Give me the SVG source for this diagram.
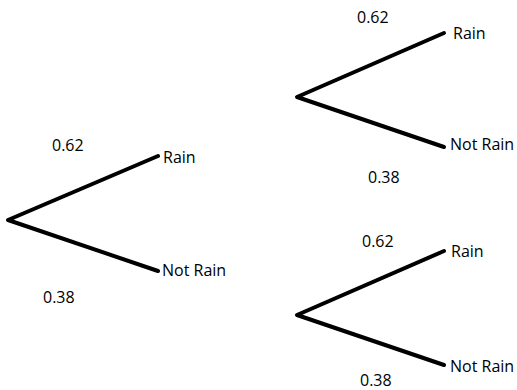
<svg xmlns="http://www.w3.org/2000/svg" width="517" height="390" viewBox="0 0 517 390">
<style>
.b{fill:none;stroke:#000;stroke-width:4;stroke-linecap:round;stroke-linejoin:round}
text{font-family:"Open Sans","Liberation Sans",sans-serif;font-size:16px;fill:#000}
</style>
<rect width="517" height="390" fill="#fff"/>
<g id="connectors">
<path class="b" d="M158 156 L8 220 L158 271"/>
<path class="b" d="M444 33 L297 97 L444 147"/>
<path class="b" d="M444 251 L297 315 L444 365"/>
</g>
<g id="tree1">
<text x="52" y="151">0.62</text>
<text x="163" y="163">Rain</text>
<text x="162" y="276">Not Rain</text>
<text x="43" y="303">0.38</text>
</g>
<g id="tree2">
<text x="357" y="23">0.62</text>
<text x="453" y="39">Rain</text>
<text x="450" y="150">Not Rain</text>
<text x="368" y="183">0.38</text>
</g>
<g id="tree3">
<text x="362" y="247">0.62</text>
<text x="451" y="257">Rain</text>
<text x="450" y="372">Not Rain</text>
<text x="360" y="386">0.38</text>
</g>
</svg>
